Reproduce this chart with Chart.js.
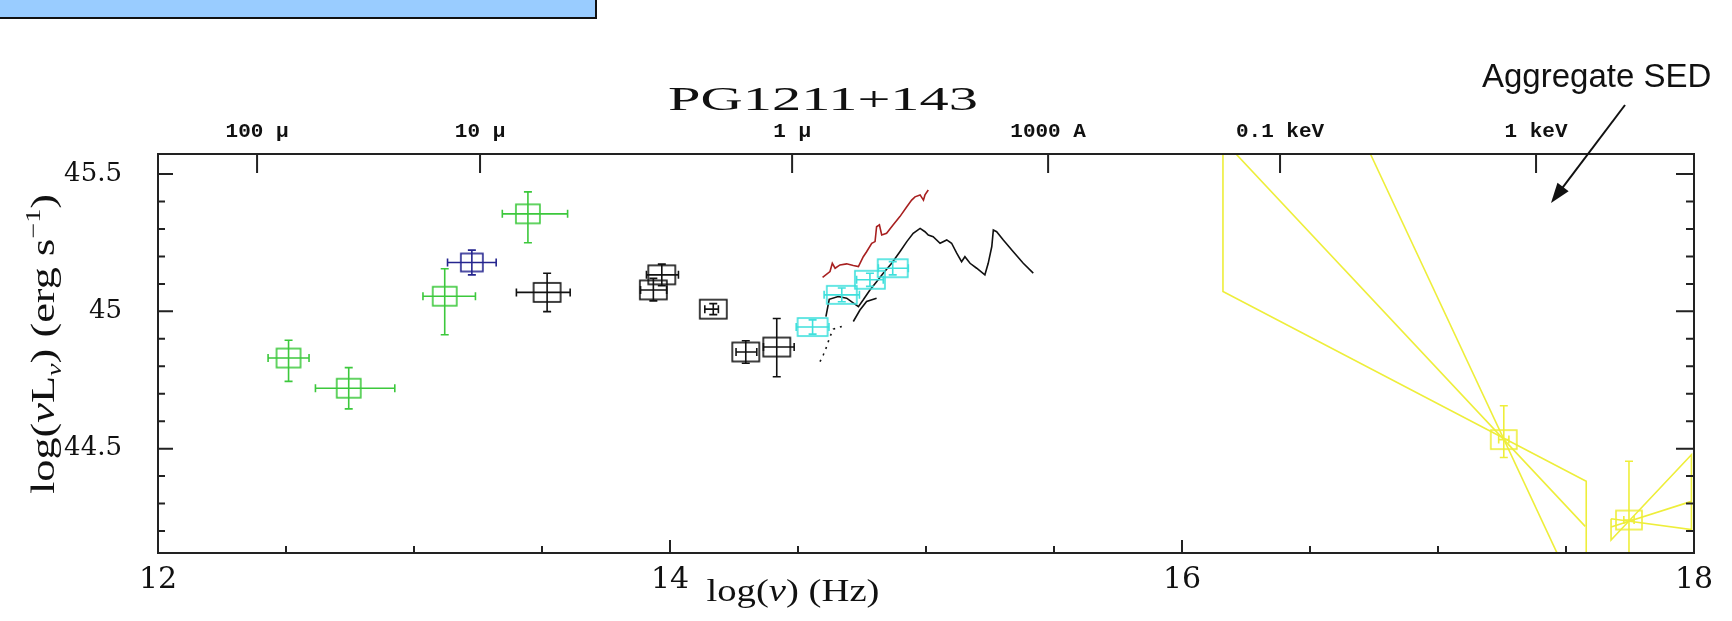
<!DOCTYPE html>
<html>
<head>
<meta charset="utf-8">
<script src="https://cdn.jsdelivr.net/npm/chart.js@4.4.0/dist/chart.umd.min.js"></script>
<style>
  html, body { margin: 0; padding: 0; background: #fff; }
  #wrap { position: relative; width: 1732px; height: 621px; }
  #note { position: absolute; left: 0; top: 0; width: 597px; height: 19px; box-sizing: border-box;
          background: #99ccff; border-right: 2px solid #111; border-bottom: 2px solid #111; }
</style>
</head>
<body>
<div id="wrap">
  <canvas id="myChart"></canvas>
  <div id="note"></div>
</div>
<script>
// ---- data (x = log nu [Hz], y = log nuLnu [erg/s]) ----
const greenX   = [12.51, 12.745, 13.12, 13.445];
const greenY   = [44.83, 44.72, 45.055, 45.355];
const greenXLo = [0.08, 0.13, 0.085, 0.10];
const greenXHi = [0.08, 0.18, 0.12, 0.155];
const greenYLo = [0.085, 0.075, 0.14, 0.105];
const greenYHi = [0.065, 0.075, 0.10, 0.08];

const blueX   = [13.226];
const blueY   = [45.178];
const blueXLo = [0.095];
const blueXHi = [0.095];
const blueYLo = [0.045];
const blueYHi = [0.045];

const blackX   = [13.52, 13.968, 13.935, 14.169, 14.296, 14.417];
const blackY   = [45.069, 45.133, 45.078, 45.008, 44.852, 44.870];
const blackXLo = [0.12, 0.06, 0.05, 0.033, 0.038, 0.052];
const blackXHi = [0.09, 0.065, 0.052, 0.02, 0.043, 0.068];
const blackYLo = [0.07, 0.04, 0.04, 0.02, 0.041, 0.108];
const blackYHi = [0.07, 0.039, 0.042, 0.02, 0.041, 0.104];

const cyanX   = [14.557, 14.671, 14.781, 14.870];
const cyanY   = [44.943, 45.06, 45.115, 45.157];
const cyanXLo = [0.064, 0.069, 0.052, 0.056];
const cyanXHi = [0.064, 0.069, 0.052, 0.061];
const cyanYLo = [0.026, 0.025, 0.024, 0.024];
const cyanYHi = [0.026, 0.025, 0.024, 0.024];

const xrayX   = [17.257, 17.746];
const xrayY   = [44.533, 44.24];
const xrayXLo = [0.02, 0.02];
const xrayXHi = [0.02, 0.02];
const xrayYLo = [0.065, 0.2];
const xrayYHi = [0.123, 0.214];

// optical/UV spectra
const redX = [14.596, 14.625, 14.634, 14.645, 14.664, 14.690, 14.716, 14.736, 14.755, 14.768, 14.788, 14.801,
              14.807, 14.818, 14.827, 14.846, 14.872, 14.898, 14.925, 14.944, 14.957, 14.977, 14.990, 14.996, 15.009];
const redY = [45.124, 45.145, 45.175, 45.157, 45.169, 45.173, 45.167, 45.163, 45.199, 45.217, 45.248, 45.254,
              45.308, 45.315, 45.278, 45.284, 45.315, 45.345, 45.381, 45.405, 45.417, 45.424, 45.405, 45.424, 45.442];

const specX = [14.609, 14.622, 14.657, 14.690, 14.736, 14.755, 14.781, 14.807, 14.833, 14.866, 14.898, 14.925,
               14.950, 14.977, 14.996, 15.009, 15.028, 15.055, 15.081, 15.100, 15.120, 15.139, 15.152, 15.172,
               15.198, 15.230, 15.243, 15.257, 15.263, 15.276, 15.302, 15.341, 15.380, 15.419];
const specY = [44.981, 45.044, 45.054, 45.048, 45.017, 45.042, 45.078, 45.108, 45.139, 45.175, 45.217, 45.254,
               45.284, 45.302, 45.290, 45.278, 45.272, 45.248, 45.260, 45.248, 45.212, 45.181, 45.199, 45.175,
               45.157, 45.133, 45.175, 45.236, 45.296, 45.290, 45.260, 45.217, 45.175, 45.139];

const spec2X = [14.716, 14.742, 14.768, 14.807];
const spec2Y = [44.963, 45.005, 45.036, 45.048];

const dotX = [14.586, 14.599, 14.612, 14.625, 14.638, 14.671];
const dotY = [44.817, 44.842, 44.872, 44.908, 44.935, 44.945];

// X-ray power-law bowties
const bowAX = [16.16, 16.16, 17.579, 17.579];
const bowAY = [45.573, 45.072, 44.381, 44.12];
const bowBX = [16.211, 17.575];
const bowBY = [45.573, 44.217];
const bowCX = [16.736, 17.466];
const bowCY = [45.573, 44.118];
const bowDX = [17.676, 17.99, 17.99, 17.676, 17.676];
const bowDY = [44.245, 44.205, 44.478, 44.167, 44.245];
const bowEX = [17.676, 17.99];
const bowEY = [44.215, 44.308];

// axes
const xMajorTicks = [12, 14, 16, 18];
const xMinorTicks = [12.5, 13, 13.5, 14.5, 15, 15.5, 16.5, 17, 17.5];
const yMajorTicks = [44.5, 45, 45.5];
const yMinorTicks = [44.2, 44.3, 44.4, 44.6, 44.7, 44.8, 44.9, 45.1, 45.2, 45.3, 45.4];
const topTickVals = [12.387, 13.258, 14.477, 15.477, 16.383, 17.383];
const topTickLabels = ['100 \u03bc', '10 \u03bc', '1 \u03bc', '1000 A', '0.1 keV', '1 keV'];

const GREEN = '#3cc83c', BLUE = '#25258f', BLACK = '#111111', CYAN = '#3fe0dc', RED = '#a82020', YELLOW = '#eeee3a';

function pts(xs, ys) {
  return xs.map(function(x, i) { return {x: x, y: ys[i]}; });
}

function boxMarker(color, w, h) {
  var c = document.createElement('canvas');
  c.width = w + 4; c.height = h + 4;
  var g = c.getContext('2d');
  g.strokeStyle = color; g.lineWidth = 1.6;
  g.strokeRect(2, 2, w, h);
  return c;
}

function markerSet(xs, ys, color, w, h) {
  return {data: pts(xs, ys), pointStyle: boxMarker(color, w, h), pointRadius: 10, showLine: false,
          borderColor: color, backgroundColor: color};
}

function lineSet(xs, ys, color, width, dash) {
  return {data: pts(xs, ys), showLine: true, pointRadius: 0, borderColor: color, borderWidth: width,
          borderDash: dash || [], tension: 0, fill: false};
}

const errorSets = [
  {x: greenX, y: greenY, xlo: greenXLo, xhi: greenXHi, ylo: greenYLo, yhi: greenYHi, color: GREEN},
  {x: blueX, y: blueY, xlo: blueXLo, xhi: blueXHi, ylo: blueYLo, yhi: blueYHi, color: BLUE},
  {x: blackX, y: blackY, xlo: blackXLo, xhi: blackXHi, ylo: blackYLo, yhi: blackYHi, color: BLACK},
  {x: cyanX, y: cyanY, xlo: cyanXLo, xhi: cyanXHi, ylo: cyanYLo, yhi: cyanYHi, color: CYAN},
  {x: xrayX, y: xrayY, xlo: xrayXLo, xhi: xrayXHi, ylo: xrayYLo, yhi: xrayYHi, color: YELLOW}
];

// draw a string (or list of parts) squeezed/stretched to a target width
function drawParts(ctx, parts, cx, base, targetW) {
  var w = 0;
  parts.forEach(function(p) { ctx.font = p.font; w += ctx.measureText(p.t).width; });
  var k = targetW ? targetW / w : 1;
  ctx.save();
  ctx.translate(cx, base);
  ctx.scale(k, 1);
  var x = -w / 2;
  ctx.textBaseline = 'alphabetic';
  ctx.textAlign = 'left';
  parts.forEach(function(p) {
    ctx.font = p.font;
    ctx.fillText(p.t, x, p.dy || 0);
    x += ctx.measureText(p.t).width;
  });
  ctx.restore();
}

const sedPlugin = {
  id: 'sed',
  afterDatasetsDraw: function(chart) {
    var ctx = chart.ctx, a = chart.chartArea, sx = chart.scales.x, sy = chart.scales.y;
    ctx.save();
    ctx.beginPath();
    ctx.rect(a.left, a.top, a.right - a.left, a.bottom - a.top);
    ctx.clip();
    ctx.lineWidth = 1.6;
    errorSets.forEach(function(s) {
      ctx.strokeStyle = s.color;
      s.x.forEach(function(xv, i) {
        var px = sx.getPixelForValue(xv), py = sy.getPixelForValue(s.y[i]);
        var x0 = sx.getPixelForValue(xv - s.xlo[i]), x1 = sx.getPixelForValue(xv + s.xhi[i]);
        var y0 = sy.getPixelForValue(s.y[i] - s.ylo[i]), y1 = sy.getPixelForValue(s.y[i] + s.yhi[i]);
        ctx.beginPath();
        ctx.moveTo(x0, py); ctx.lineTo(x1, py);
        ctx.moveTo(x0, py - 4); ctx.lineTo(x0, py + 4);
        ctx.moveTo(x1, py - 4); ctx.lineTo(x1, py + 4);
        ctx.moveTo(px, y0); ctx.lineTo(px, y1);
        ctx.moveTo(px - 4, y0); ctx.lineTo(px + 4, y0);
        ctx.moveTo(px - 4, y1); ctx.lineTo(px + 4, y1);
        ctx.stroke();
      });
    });
    ctx.restore();
  },
  afterDraw: function(chart) {
    var ctx = chart.ctx, a = chart.chartArea, sx = chart.scales.x, sy = chart.scales.y;
    ctx.save();
    ctx.strokeStyle = '#222';
    ctx.lineWidth = 2;
    ctx.strokeRect(a.left, a.top, a.right - a.left, a.bottom - a.top);

    ctx.beginPath();
    xMajorTicks.forEach(function(v) { var p = sx.getPixelForValue(v); ctx.moveTo(p, a.bottom); ctx.lineTo(p, a.bottom - 13); });
    xMinorTicks.forEach(function(v) { var p = sx.getPixelForValue(v); ctx.moveTo(p, a.bottom); ctx.lineTo(p, a.bottom - 7); });
    topTickVals.forEach(function(v) { var p = sx.getPixelForValue(v); ctx.moveTo(p, a.top); ctx.lineTo(p, a.top + 19); });
    yMajorTicks.forEach(function(v) {
      var p = sy.getPixelForValue(v);
      ctx.moveTo(a.left, p); ctx.lineTo(a.left + 15, p);
      ctx.moveTo(a.right, p); ctx.lineTo(a.right - 18, p);
    });
    yMinorTicks.forEach(function(v) {
      var p = sy.getPixelForValue(v);
      ctx.moveTo(a.left, p); ctx.lineTo(a.left + 7, p);
      ctx.moveTo(a.right, p); ctx.lineTo(a.right - 8, p);
    });
    ctx.stroke();

    ctx.fillStyle = '#111';
    // plot title
    drawParts(ctx, [{t: 'PG1211+143', font: '34px "Liberation Serif"'}], 823, 110, 310);
    // x axis title
    drawParts(ctx, [{t: 'log(', font: '32px "Liberation Serif"'}, {t: '\u03bd', font: 'italic 32px "Liberation Serif"'},
                    {t: ') (Hz)', font: '32px "Liberation Serif"'}], 793, 601, 173);
    // y axis title, rotated
    ctx.save();
    ctx.translate(54, 344);
    ctx.rotate(-Math.PI / 2);
    drawParts(ctx, [
      {t: 'log(', font: '33px "Liberation Serif"'},
      {t: '\u03bd', font: 'italic 33px "Liberation Serif"'},
      {t: 'L', font: '33px "Liberation Serif"'},
      {t: '\u03bd', font: 'italic 21px "Liberation Serif"', dy: 7},
      {t: ') (erg s', font: '33px "Liberation Serif"'},
      {t: '\u22121', font: '21px "Liberation Serif"', dy: -14},
      {t: ')', font: '33px "Liberation Serif"'}
    ], 0, 0, 300);
    ctx.restore();

    // annotation
    ctx.font = '33px "Liberation Sans"';
    ctx.textAlign = 'left';
    ctx.textBaseline = 'alphabetic';
    ctx.fillText('Aggregate SED', 1482, 87);
    var ax0 = 1625, ay0 = 105, ax1 = 1551, ay1 = 203;
    var ang = Math.atan2(ay1 - ay0, ax1 - ax0);
    ctx.strokeStyle = '#111';
    ctx.lineWidth = 2;
    ctx.beginPath();
    ctx.moveTo(ax0, ay0);
    ctx.lineTo(ax1 - 12 * Math.cos(ang), ay1 - 12 * Math.sin(ang));
    ctx.stroke();
    ctx.beginPath();
    ctx.moveTo(ax1, ay1);
    ctx.lineTo(ax1 - 20 * Math.cos(ang) + 7 * Math.sin(ang), ay1 - 20 * Math.sin(ang) - 7 * Math.cos(ang));
    ctx.lineTo(ax1 - 20 * Math.cos(ang) - 7 * Math.sin(ang), ay1 - 20 * Math.sin(ang) + 7 * Math.cos(ang));
    ctx.closePath();
    ctx.fill();
    ctx.restore();
  }
};

const config = {
  type: 'scatter',
  data: {
    datasets: [
      markerSet(greenX, greenY, GREEN, 24, 19),
      markerSet(blueX, blueY, BLUE, 22, 18),
      markerSet(blackX, blackY, BLACK, 27, 19),
      markerSet(cyanX, cyanY, CYAN, 30, 18),
      markerSet(xrayX, xrayY, YELLOW, 26, 19),
      lineSet(redX, redY, RED, 1.6),
      lineSet(specX, specY, BLACK, 1.6),
      lineSet(spec2X, spec2Y, BLACK, 1.6),
      lineSet(dotX, dotY, BLACK, 1.6, [2, 5]),
      lineSet(bowAX, bowAY, YELLOW, 1.6),
      lineSet(bowBX, bowBY, YELLOW, 1.6),
      lineSet(bowCX, bowCY, YELLOW, 1.6),
      lineSet(bowDX, bowDY, YELLOW, 1.6),
      lineSet(bowEX, bowEY, YELLOW, 1.6)
    ]
  },
  options: {
    responsive: true,
    maintainAspectRatio: false,
    animation: false,
    events: [],
    layout: {padding: {left: 0, right: 38, top: 0, bottom: 0}},
    plugins: {legend: {display: false}, tooltip: {enabled: false}},
    scales: {
      x: {
        type: 'linear', position: 'bottom', min: 12, max: 18,
        afterBuildTicks: function(s) { s.ticks = xMajorTicks.map(function(v) { return {value: v}; }); },
        afterFit: function(s) { s.height = 68; },
        grid: {display: false}, border: {display: false},
        ticks: {font: {family: 'DejaVu Serif', size: 30}, color: '#111', padding: 1, maxRotation: 0, autoSkip: false,
                callback: function(v) { return String(v); }}
      },
      x2: {
        type: 'linear', position: 'top', min: 12, max: 18,
        afterBuildTicks: function(s) { s.ticks = topTickVals.map(function(v) { return {value: v}; }); },
        afterFit: function(s) { s.height = 154; },
        grid: {display: false}, border: {display: false},
        ticks: {font: {family: 'Liberation Mono', size: 21, weight: 'bold'}, color: '#111', padding: 2, maxRotation: 0, autoSkip: false,
                callback: function(v, i) { return topTickLabels[i]; }}
      },
      y: {
        type: 'linear', position: 'left', min: 44.12, max: 45.573,
        afterBuildTicks: function(s) { s.ticks = yMajorTicks.map(function(v) { return {value: v}; }); },
        afterFit: function(s) { s.width = 158; },
        grid: {display: false}, border: {display: false},
        ticks: {font: {family: 'DejaVu Serif', size: 26}, color: '#111', padding: 28, autoSkip: false,
                callback: function(v) { return String(v); }}
      }
    }
  },
  plugins: [sedPlugin]
};

var myChart = new Chart(document.getElementById('myChart'), config);
</script>
</body>
</html>
